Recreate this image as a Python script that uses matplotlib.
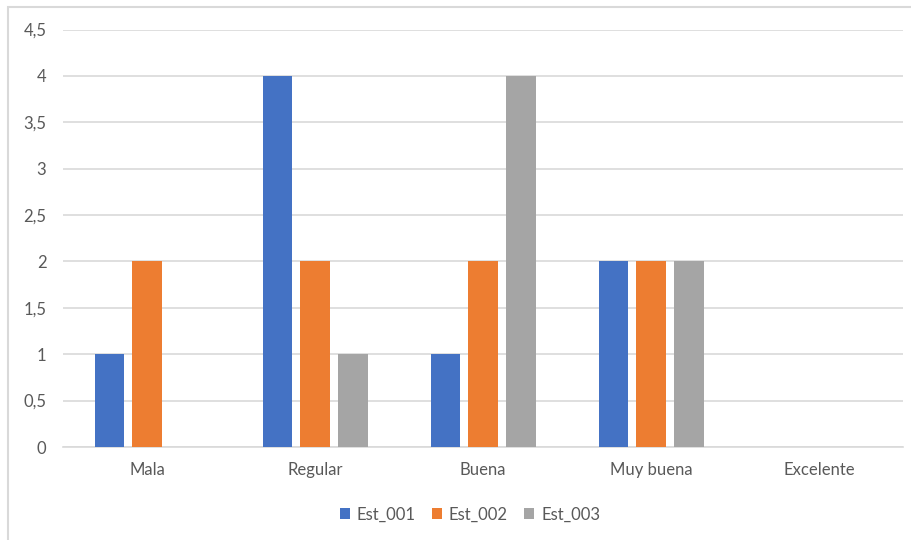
import matplotlib.pyplot as plt
import numpy as np
from matplotlib.patches import Rectangle

categories = ['Mala', 'Regular', 'Buena', 'Muy buena', 'Excelente']
series_names = ['Est_001', 'Est_002', 'Est_003']
est_001 = [1, 4, 1, 2, 0]
est_002 = [2, 2, 2, 2, 0]
est_003 = [0, 1, 4, 2, 0]
colors = ['#4472C4', '#ED7D31', '#A5A5A5']
y_ticks = [0, 0.5, 1, 1.5, 2, 2.5, 3, 3.5, 4, 4.5]

plt.rcParams['font.family'] = ['Lato', 'DejaVu Sans']
text_color = '#595959'

fig = plt.figure(figsize=(9.12, 5.4), dpi=100)
ax = fig.add_axes([63 / 912, 1 - 447 / 540, 840 / 912, (447 - 29.5) / 540])

# chart frame, only left and top edges are in view
fig.patches.append(Rectangle((8.5 / 912, -0.1), 1.2, 1 - 6.5 / 540 + 0.1,
                             transform=fig.transFigure, fill=False,
                             edgecolor='#D9D9D9', linewidth=1.5))

x = np.arange(len(categories))
width = 0.173
step = 0.226
for i, (vals, name) in enumerate(zip([est_001, est_002, est_003], series_names)):
    ax.bar(x + (i - 1) * step, vals, width, color=colors[i], label=name, zorder=3)

ax.set_xlim(-0.5, len(categories) - 0.5)
ax.set_ylim(0, 4.5)
ax.set_yticks(y_ticks)
ax.set_yticklabels([f'{t:g}'.replace('.', ',') for t in y_ticks])
ax.set_xticks(x)
ax.set_xticklabels(categories)
ax.tick_params(length=0, labelsize=12, colors=text_color)
ax.tick_params(axis='y', pad=12)
ax.tick_params(axis='x', pad=11)
ax.grid(axis='y', color='#D9D9D9', linewidth=1.2, zorder=0)
for side in ['top', 'right', 'left']:
    ax.spines[side].set_visible(False)
ax.spines['bottom'].set_color('#D9D9D9')
ax.spines['bottom'].set_linewidth(1.2)

ax.legend(loc='center', bbox_to_anchor=(0.4845, -0.162), ncol=3, frameon=False,
          fontsize=12, labelcolor=text_color, handlelength=0.6, handleheight=0.6,
          handletextpad=0.4, columnspacing=1.0)

fig.savefig('out.png', dpi=100)
